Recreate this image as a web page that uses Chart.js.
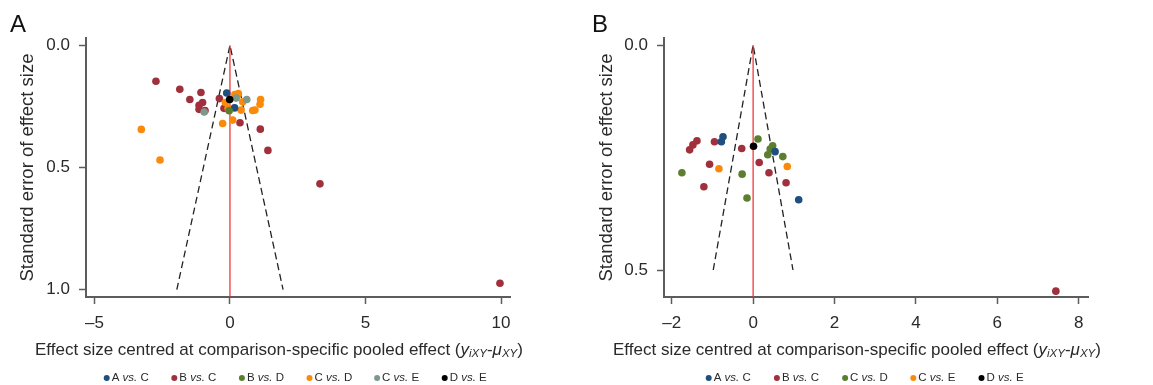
<!DOCTYPE html>
<html>
<head>
<meta charset="utf-8">
<script src="https://cdn.jsdelivr.net/npm/chart.js@4/dist/chart.umd.min.js"></script>
<style>
  body { margin: 0; background: #fff; }
  .panel { position: absolute; top: 0; height: 385px; }
</style>
</head>
<body>
<div class="panel" style="left:0;width:576px"><canvas id="chartA"></canvas></div>
<div class="panel" style="left:576px;width:577px"><canvas id="chartB"></canvas></div>
<script>
// ---- panel A data (effect centred, standard error) ----
const aAC_x = [-0.12, 0.17];
const aAC_se = [0.195, 0.256];
const aBC_x = [-2.73, -1.85, -1.07, -1.48, -1.14, -1.01, -1.14, -0.92, -0.39, -0.22, 0.37, 1.12, 1.40, 3.32, 9.96];
const aBC_se = [0.147, 0.180, 0.193, 0.222, 0.245, 0.234, 0.262, 0.267, 0.218, 0.258, 0.317, 0.343, 0.430, 0.567, 0.974];
const aBD_x = [-0.03];
const aBD_se = [0.268];
const aCD_x = [-0.17, 0.18, 0.31, 0.47, 1.13, 1.11, 0.92, 0.84, -0.07, 0.41, -0.27, 0.10, -3.27, -2.58];
const aCD_se = [0.234, 0.201, 0.197, 0.231, 0.222, 0.241, 0.265, 0.267, 0.258, 0.265, 0.320, 0.306, 0.344, 0.469];
const aCE_x = [-0.95, 0.23, 0.62];
const aCE_se = [0.273, 0.216, 0.222];
const aDE_x = [-0.01];
const aDE_se = [0.222];
const labelsA = ["A|C", "B|C", "B|D", "C|D", "C|E", "D|E"];

// ---- panel B data ----
const bAC_x = [-0.74, -0.78, 0.54, 1.12];
const bAC_se = [0.204, 0.215, 0.237, 0.344];
const bBC_x = [-1.38, -1.48, -1.56, -0.95, -0.28, 0.15, 0.39, 0.81, -1.07, -1.21, 7.44];
const bBC_se = [0.213, 0.222, 0.233, 0.215, 0.230, 0.261, 0.284, 0.306, 0.265, 0.315, 0.547];
const bCD_x = [0.12, 0.48, 0.42, 0.36, 0.73, -1.75, -0.27, -0.15];
const bCD_se = [0.209, 0.224, 0.231, 0.244, 0.248, 0.284, 0.287, 0.340];
const bCE_x = [0.84, -0.84];
const bCE_se = [0.270, 0.275];
const bDE_x = [0.01];
const bDE_se = [0.225];
const labelsB = ["A|C", "B|C", "C|D", "C|E", "D|E"];

// funnel (pooled ± 1.96 SE) and reference line
const funnelA_x = [-1.96, 0, 1.96];
const funnelA_se = [1.0, 0, 1.0];
const funnelB_x = [-0.98, 0, 0.98];
const funnelB_se = [0.5, 0, 0.5];

// axis ticks
const xTicksA = [-5, 0, 5, 10];
const yTicksA = [0, 0.5, 1.0];
const xTicksB = [-2, 0, 2, 4, 6, 8];
const yTicksB = [0, 0.5];

const COLORS = ["#1f4f7e", "#a0303b", "#5b7f2e", "#fb8a0b", "#7c998b", "#000000"];
const COLORS_B = ["#1f4f7e", "#a0303b", "#5b7f2e", "#fb8a0b", "#000000"];
const AXIS = "#5c5c5c";
const TXT = "#2a2a2a";
const FAM = "'Liberation Sans', Arial, Helvetica, sans-serif";

const pts = (xs, ys) => xs.map((x, i) => ({ x: x, y: ys[i] }));

function pointSet(label, xs, ys, color) {
  return {
    label: label,
    data: pts(xs, ys),
    backgroundColor: color,
    borderWidth: 0,
    pointRadius: 3.8,
    pointHoverRadius: 3.8,
  };
}

function lineSet(xs, ys, color, dash, width) {
  return {
    data: pts(xs, ys),
    showLine: true,
    borderColor: color,
    borderWidth: width,
    borderDash: dash,
    pointRadius: 0,
    fill: false,
    order: 10,
  };
}

function drawRich(ctx, parts, x, y) {
  let cx = x;
  for (const p of parts) {
    ctx.font = p.font;
    ctx.fillText(p.t, cx, y + (p.dy || 0));
    cx += ctx.measureText(p.t).width;
  }
}

function decorations(letter, letterX, titleX, legendX, legendStep, labels, colors) {
  return {
    id: "deco" + letter,
    afterDraw(chart) {
      const ctx = chart.ctx;
      ctx.save();
      ctx.fillStyle = "#111";
      ctx.textBaseline = "alphabetic";
      ctx.font = "24px " + FAM;
      ctx.fillText(letter, letterX, 32);

      ctx.fillStyle = TXT;
      ctx.textBaseline = "middle";
      const n = "17px " + FAM, it = "italic 17px " + FAM, sub = "italic 11.5px " + FAM;
      drawRich(ctx, [
        { t: "Effect size centred at comparison-specific pooled effect (", font: n },
        { t: "y", font: it },
        { t: "iXY", font: sub, dy: 4 },
        { t: "-", font: n },
        { t: "\u03bc", font: it },
        { t: "XY", font: sub, dy: 4 },
        { t: ")", font: n },
      ], titleX, 350);

      const lf = "11.5px " + FAM, lfi = "italic 11.5px " + FAM;
      labels.forEach((lab, i) => {
        const dx = legendX + i * legendStep;
        ctx.beginPath();
        ctx.arc(dx, 378, 3, 0, Math.PI * 2);
        ctx.fillStyle = colors[i];
        ctx.fill();
        ctx.fillStyle = TXT;
        const [p, q] = lab.split("|");
        drawRich(ctx, [
          { t: p + " ", font: lf },
          { t: "vs.", font: lfi },
          { t: " " + q, font: lf },
        ], dx + 5, 378);
      });
      ctx.restore();
    },
  };
}

function makeScales(xr, xt, yr, yt, leftW, titlePad) {
  const tickFont = { family: FAM, size: 17 };
  return {
    x: {
      type: "linear",
      min: xr[0], max: xr[1],
      afterBuildTicks: s => { s.ticks = xt.map(v => ({ value: v })); },
      afterFit: s => { s.height = 88; },
      border: { color: AXIS, width: 2 },
      grid: { drawOnChartArea: false, tickLength: 7, tickColor: AXIS, tickWidth: 1.5 },
      ticks: { font: tickFont, color: TXT, padding: 9, maxRotation: 0,
               callback: v => String(v).replace("-", "\u2013") },
    },
    y: {
      type: "linear",
      reverse: true,
      min: yr[0], max: yr[1],
      afterBuildTicks: s => { s.ticks = yt.map(v => ({ value: v })); },
      afterFit: s => { s.width = leftW; },
      border: { color: AXIS, width: 2 },
      grid: { drawOnChartArea: false, tickLength: 7, tickColor: AXIS, tickWidth: 1.5 },
      ticks: { font: tickFont, color: TXT, padding: 9, callback: v => v.toFixed(1) },
      title: { display: true, text: "Standard error of effect size", color: TXT,
               font: { family: FAM, size: 18.5 }, padding: { top: titlePad, bottom: 0 } },
    },
  };
}

const baseOpts = (scales, padRight) => ({
  responsive: true,
  maintainAspectRatio: false,
  animation: false,
  layout: { padding: { top: 38, right: padRight, bottom: 0, left: 0 } },
  scales: scales,
  plugins: { legend: { display: false }, tooltip: { enabled: false } },
});

const yMaxA = 1.03, yMaxB = 0.56;

new Chart(document.getElementById("chartA"), {
  type: "scatter",
  data: {
    datasets: [
      pointSet("D vs. E", aDE_x, aDE_se, COLORS[5]),
      pointSet("C vs. E", aCE_x, aCE_se, COLORS[4]),
      pointSet("B vs. D", aBD_x, aBD_se, COLORS[2]),
      pointSet("A vs. C", aAC_x, aAC_se, COLORS[0]),
      pointSet("C vs. D", aCD_x, aCD_se, COLORS[3]),
      pointSet("B vs. C", aBC_x, aBC_se, COLORS[1]),
      lineSet([0, 0], [0, yMaxA], "#ee2a2a", [], 1.2),
      lineSet(funnelA_x, funnelA_se, "#222", [7, 4], 1.3),
    ],
  },
  options: baseOpts(makeScales([-5.31, 10.33], xTicksA, [-0.03, yMaxA], yTicksA, 86, 17), 66),
  plugins: [decorations("A", 10, 35, 106.7, 67.6, labelsA, COLORS)],
});

new Chart(document.getElementById("chartB"), {
  type: "scatter",
  data: {
    datasets: [
      pointSet("D vs. E", bDE_x, bDE_se, COLORS_B[4]),
      pointSet("C vs. E", bCE_x, bCE_se, COLORS_B[3]),
      pointSet("A vs. C", bAC_x, bAC_se, COLORS_B[0]),
      pointSet("C vs. D", bCD_x, bCD_se, COLORS_B[2]),
      pointSet("B vs. C", bBC_x, bBC_se, COLORS_B[1]),
      lineSet([0, 0], [0, yMaxB], "#ee2a2a", [], 1.2),
      lineSet(funnelB_x, funnelB_se, "#222", [7, 4], 1.3),
    ],
  },
  options: baseOpts(makeScales([-2.19, 8.23], xTicksB, [-0.0156, yMaxB], yTicksB, 88, 20), 65),
  plugins: [decorations("B", 16, 37, 132.7, 68.2, labelsB, COLORS_B)],
});
</script>
</body>
</html>
